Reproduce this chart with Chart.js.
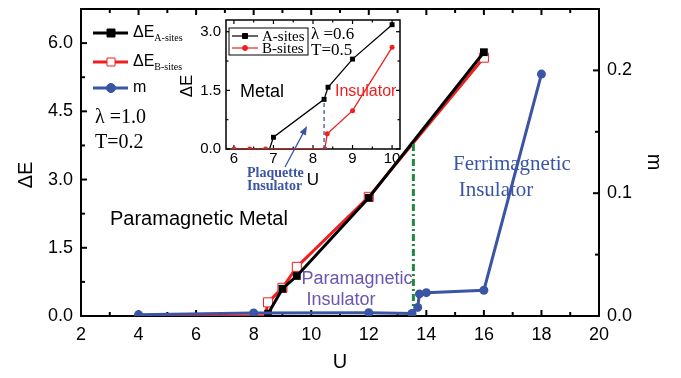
<!DOCTYPE html>
<html>
<head>
<meta charset="utf-8">
<script src="https://cdn.jsdelivr.net/npm/chart.js@4.4.0/dist/chart.umd.min.js"></script>
<style>
  body { margin: 0; background: #fff; }
  #wrap { position: relative; width: 681px; height: 378px; }
  #main { position: absolute; left: 0; top: 0; }
  #inset { position: absolute; left: 180px; top: 14px; }
</style>
</head>
<body>
<div id="wrap">
  <canvas id="main" width="681" height="378" style="width:681px;height:378px"></canvas>
  <canvas id="inset" width="230" height="185" style="width:230px;height:185px"></canvas>
</div>
<script>
const SANS = "'Liberation Sans', Arial, sans-serif";
const SERIF = "'Liberation Serif', 'Times New Roman', serif";
const BLACK = "#000000";
const RED = "#f01e1e";
const BLUE = "#3b55a5";
const GREEN = "#1e8a3e";
const PURPLE = "#6c55ad";

// main panel (lambda = 1.0, T = 0.2)
const uA = [8.5, 9, 9.5, 12, 16];
const dEA = [0.05, 0.6, 0.88, 2.6, 5.8];
const uB = [4, 8, 8.4, 8.5, 9, 9.5, 12, 16];
const dEB = [0, 0, 0, 0.3, 0.62, 1.08, 2.62, 5.68];
const uM = [4, 8, 12, 13.5, 13.7, 13.76, 14, 16, 18];
const mVals = [0.001, 0.0025, 0.0027, 0.002, 0.007, 0.018, 0.019, 0.021, 0.197];
const uTransition = [13.55, 13.55];
const dETransition = [0, 3.8];
const xTicksMain = [2, 4, 6, 8, 10, 12, 14, 16, 18, 20];
const yTicksMain = [0, 1.5, 3, 4.5, 6];
const mTicks = [0, 0.1, 0.2];

// inset (lambda = 0.6, T = 0.5)
const uInsetA = [6, 6.9, 7, 8.28, 8.38, 9, 10];
const dEInsetA = [0, 0, 0.3, 1.27, 1.58, 2.3, 3.18];
const uInsetB = [6, 6.4, 6.8, 8.3, 8.36, 9, 10];
const dEInsetB = [0, 0, 0, 0, 0.39, 0.98, 2.6];
const uPlaquette = [8.28, 8.28];
const dEPlaquette = [0, 1.27];
const xTicksInset = [6, 7, 8, 9, 10];
const yTicksInset = [0, 1.5, 3];

const pts = (xs, ys) => xs.map((x, i) => ({ x, y: ys[i] }));
const fixedTicks = (vals) => (scale) => { scale.ticks = vals.map((v) => ({ value: v })); };

// fixed box size for a scale, and no extra label padding pushed into the layout
const fitTo = (prop, size) => (s) => {
  s[prop] = size;
  s.paddingTop = 0;
  s.paddingBottom = 0;
  s.paddingLeft = 0;
  s.paddingRight = 0;
};

function drawTicks(ctx, scale, values, len, side, area) {
  values.forEach((v) => {
    const p = scale.getPixelForValue(v);
    ctx.beginPath();
    if (side === "bottom") { ctx.moveTo(p, area.bottom); ctx.lineTo(p, area.bottom - len); }
    if (side === "top") { ctx.moveTo(p, area.top); ctx.lineTo(p, area.top + len); }
    if (side === "left") { ctx.moveTo(area.left, p); ctx.lineTo(area.left + len, p); }
    if (side === "right") { ctx.moveTo(area.right, p); ctx.lineTo(area.right - len, p); }
    ctx.stroke();
  });
}

function marker(ctx, style, x, y, size, stroke, fill) {
  ctx.save();
  ctx.fillStyle = fill;
  ctx.strokeStyle = stroke;
  ctx.lineWidth = 1;
  ctx.beginPath();
  if (style === "rect") ctx.rect(x - size / 2, y - size / 2, size, size);
  else ctx.arc(x, y, size / 2, 0, Math.PI * 2);
  ctx.fill();
  ctx.stroke();
  ctx.restore();
}

function text(ctx, str, x, y, font, color, align) {
  ctx.font = font;
  ctx.fillStyle = color;
  ctx.textAlign = align || "left";
  ctx.textBaseline = "middle";
  ctx.fillText(str, x, y);
}

const mainDecor = {
  id: "mainDecor",
  beforeDraw(chart) {
    const { ctx, width, height } = chart;
    ctx.save();
    ctx.fillStyle = "#fff";
    ctx.fillRect(0, 0, width, height);
    ctx.restore();
  },
  beforeDatasetsDraw(chart) {
    const { ctx, chartArea: a, scales } = chart;
    ctx.save();
    ctx.strokeStyle = BLACK;
    ctx.lineWidth = 2;
    ctx.strokeRect(a.left, a.top, a.right - a.left, a.bottom - a.top);
    const xs = [];
    for (let u = 3; u < 20; u += 2) xs.push(u);
    drawTicks(ctx, scales.x, xTicksMain, 6, "bottom", a);
    drawTicks(ctx, scales.x, xs, 4, "bottom", a);
    drawTicks(ctx, scales.x, xTicksMain, 6, "top", a);
    drawTicks(ctx, scales.x, xs, 4, "top", a);
    drawTicks(ctx, scales.y, yTicksMain, 6, "left", a);
    drawTicks(ctx, scales.y, [0.75, 2.25, 3.75, 5.25], 4, "left", a);
    drawTicks(ctx, scales.y1, mTicks, 6, "right", a);
    drawTicks(ctx, scales.y1, [0.05, 0.15], 4, "right", a);
    ctx.restore();
  },
  afterDraw(chart) {
    const { ctx } = chart;
    ctx.save();

    // legend
    const rows = [
      { y: 33, color: BLACK, style: "rect", fill: BLACK, main: "\u0394E", sub: "A-sites" },
      { y: 62, color: RED, style: "rect", fill: "#fff", main: "\u0394E", sub: "B-sites" },
      { y: 88, color: BLUE, style: "circle", fill: BLUE, main: "m", sub: "" },
    ];
    rows.forEach((r) => {
      ctx.strokeStyle = r.color;
      ctx.lineWidth = 3;
      ctx.beginPath();
      ctx.moveTo(93, r.y);
      ctx.lineTo(128, r.y);
      ctx.stroke();
      marker(ctx, r.style, 111, r.y, r.style === "rect" ? 8 : 9, r.color, r.fill);
      text(ctx, r.main, 133, r.y, "16px " + SANS, BLACK);
      if (r.sub) {
        ctx.font = "16px " + SANS;
        const w = ctx.measureText(r.main).width;
        text(ctx, r.sub, 133 + w, r.y + 5, "10px " + SERIF, BLACK);
      }
    });

    text(ctx, "\u03bb =1.0", 95, 118, "20px " + SERIF, BLACK);
    text(ctx, "T=0.2", 95, 143, "20px " + SERIF, BLACK);
    text(ctx, "Paramagnetic Metal", 110, 219, "20px " + SANS, BLACK);
    text(ctx, "Paramagnetic", 357, 279, "18px " + SANS, PURPLE, "center");
    text(ctx, "Insulator", 341, 300, "18px " + SANS, PURPLE, "center");
    text(ctx, "Ferrimagnetic", 512, 164, "21px " + SERIF, BLUE, "center");
    text(ctx, "Insulator", 496, 190, "21px " + SERIF, BLUE, "center");

    // axis titles
    text(ctx, "U", 340, 362, "20px " + SANS, BLACK, "center");
    ctx.save();
    ctx.translate(26, 175);
    ctx.rotate(-Math.PI / 2);
    text(ctx, "\u0394E", 0, 0, "20px " + SANS, BLACK, "center");
    ctx.restore();
    ctx.save();
    ctx.translate(654, 162);
    ctx.rotate(Math.PI / 2);
    text(ctx, "m", 0, 0, "20px " + SANS, BLACK, "center");
    ctx.restore();

    ctx.restore();
  },
};

new Chart(document.getElementById("main"), {
  type: "line",
  data: {
    datasets: [
      {
        label: "m",
        data: pts(uM, mVals),
        yAxisID: "y1",
        borderColor: BLUE,
        backgroundColor: BLUE,
        borderWidth: 3,
        pointRadius: 4.5,
        pointBorderWidth: 0,
        pointBackgroundColor: BLUE,
      },
      {
        label: "transition",
        data: pts(uTransition, dETransition),
        yAxisID: "y",
        borderColor: GREEN,
        borderWidth: 3,
        borderDash: [7, 3, 2, 3],
        pointRadius: 0,
      },
      {
        label: "A-sites",
        data: pts(uA, dEA),
        yAxisID: "y",
        borderColor: BLACK,
        backgroundColor: BLACK,
        borderWidth: 3,
        pointStyle: "rect",
        pointRadius: 5.5,
        pointBorderWidth: 0,
        pointBackgroundColor: BLACK,
      },
      {
        label: "B-sites",
        data: pts(uB, dEB),
        yAxisID: "y",
        borderColor: RED,
        borderWidth: 3,
        pointStyle: "rect",
        pointRadius: uB.map((u, i) => (dEB[i] === 0 ? 0 : 6.4)),
        pointBorderWidth: 1,
        pointBorderColor: RED,
        pointBackgroundColor: "#fff",
      },
    ],
  },
  options: {
    responsive: false,
    animation: false,
    layout: { padding: { top: 9, left: 0, right: 0, bottom: 0 } },
    elements: { line: { tension: 0 } },
    plugins: { legend: { display: false }, tooltip: { enabled: false } },
    scales: {
      x: {
        type: "linear",
        min: 2,
        max: 20,
        afterBuildTicks: fixedTicks(xTicksMain),
        afterFit: fitTo("height", 62),
        grid: { display: false, drawTicks: false },
        border: { display: false },
        ticks: { color: BLACK, padding: 8, font: { family: SANS, size: 18 } },
      },
      y: {
        position: "left",
        min: 0,
        max: 6.75,
        afterBuildTicks: fixedTicks(yTicksMain),
        afterFit: fitTo("width", 81),
        grid: { display: false, drawTicks: false },
        border: { display: false },
        ticks: { color: BLACK, padding: 8, font: { family: SANS, size: 18 }, callback: (v) => v.toFixed(1) },
      },
      y1: {
        position: "right",
        min: 0,
        max: 0.25,
        afterBuildTicks: fixedTicks(mTicks),
        afterFit: fitTo("width", 82),
        grid: { display: false, drawTicks: false },
        border: { display: false },
        ticks: { color: BLACK, padding: 8, font: { family: SANS, size: 18 }, callback: (v) => v.toFixed(1) },
      },
    },
  },
  plugins: [mainDecor],
});

// -------- inset --------
const insetDecor = {
  id: "insetDecor",
  beforeDraw(chart) {
    const { ctx, chartArea: a } = chart;
    ctx.save();
    ctx.fillStyle = "#fff";
    ctx.fillRect(a.left, a.top, a.right - a.left, a.bottom - a.top);
    ctx.restore();
  },
  beforeDatasetsDraw(chart) {
    const { ctx, chartArea: a, scales } = chart;
    ctx.save();
    ctx.strokeStyle = BLACK;
    ctx.lineWidth = 1.5;
    ctx.strokeRect(a.left, a.top, a.right - a.left, a.bottom - a.top);
    ctx.lineWidth = 1.2;
    drawTicks(ctx, scales.x, xTicksInset, 4, "bottom", a);
    drawTicks(ctx, scales.x, [6.5, 7.5, 8.5, 9.5], 2.5, "bottom", a);
    drawTicks(ctx, scales.x, xTicksInset, 4, "top", a);
    drawTicks(ctx, scales.x, [6.5, 7.5, 8.5, 9.5], 2.5, "top", a);
    drawTicks(ctx, scales.y, yTicksInset, 4, "left", a);
    drawTicks(ctx, scales.y, [0.75, 2.25], 2.5, "left", a);
    drawTicks(ctx, scales.y, yTicksInset, 4, "right", a);
    drawTicks(ctx, scales.y, [0.75, 2.25], 2.5, "right", a);
    ctx.restore();
  },
  afterDraw(chart) {
    const { ctx } = chart;
    ctx.save();

    // legend box
    ctx.fillStyle = "#fff";
    ctx.fillRect(49, 14, 79, 27);
    ctx.strokeStyle = BLACK;
    ctx.lineWidth = 1;
    ctx.strokeRect(49, 14, 79, 27);
    [
      { y: 22, color: BLACK, style: "rect", label: "A-sites" },
      { y: 34, color: RED, style: "circle", label: "B-sites" },
    ].forEach((r) => {
      ctx.strokeStyle = r.color;
      ctx.lineWidth = 1.2;
      ctx.beginPath();
      ctx.moveTo(52, r.y);
      ctx.lineTo(78, r.y);
      ctx.stroke();
      marker(ctx, r.style, 65, r.y, 5, r.color, r.color);
      text(ctx, r.label, 82, r.y + 1, "15px " + SERIF, BLACK);
    });

    text(ctx, "\u03bb =0.6", 131, 21, "17px " + SERIF, BLACK);
    text(ctx, "T=0.5", 131, 37, "17px " + SERIF, BLACK);
    text(ctx, "Metal", 60, 78, "18px " + SANS, BLACK);
    text(ctx, "Insulator", 155, 78, "16px " + SANS, RED);

    // arrow pointing at the plaquette region
    ctx.strokeStyle = BLUE;
    ctx.fillStyle = BLUE;
    ctx.lineWidth = 1.3;
    const x0 = 105, y0 = 153, x1 = 127, y1 = 112;
    const ang = Math.atan2(y1 - y0, x1 - x0);
    ctx.beginPath();
    ctx.moveTo(x0, y0);
    ctx.lineTo(x1 - 7 * Math.cos(ang), y1 - 7 * Math.sin(ang));
    ctx.stroke();
    ctx.beginPath();
    ctx.moveTo(x1, y1);
    ctx.lineTo(x1 - 9 * Math.cos(ang) + 3.5 * Math.sin(ang), y1 - 9 * Math.sin(ang) - 3.5 * Math.cos(ang));
    ctx.lineTo(x1 - 9 * Math.cos(ang) - 3.5 * Math.sin(ang), y1 - 9 * Math.sin(ang) + 3.5 * Math.cos(ang));
    ctx.closePath();
    ctx.fill();

    text(ctx, "Plaquette", 67, 159, "bold 14px " + SERIF, BLUE);
    text(ctx, "Insulator", 67, 172, "bold 14px " + SERIF, BLUE);

    text(ctx, "U", 133, 166, "17px " + SANS, BLACK, "center");
    ctx.save();
    ctx.translate(7, 72);
    ctx.rotate(-Math.PI / 2);
    text(ctx, "\u0394E", 0, 0, "17px " + SANS, BLACK, "center");
    ctx.restore();

    ctx.restore();
  },
};

new Chart(document.getElementById("inset"), {
  type: "line",
  data: {
    datasets: [
      {
        label: "plaquette",
        data: pts(uPlaquette, dEPlaquette),
        borderColor: BLUE,
        borderWidth: 1.3,
        borderDash: [4, 3],
        pointRadius: 0,
      },
      {
        label: "B-sites",
        data: pts(uInsetB, dEInsetB),
        borderColor: RED,
        backgroundColor: RED,
        borderWidth: 1.3,
        pointRadius: 2.5,
        pointBorderWidth: 0,
        pointBackgroundColor: RED,
      },
      {
        label: "A-sites",
        data: pts(uInsetA, dEInsetA),
        borderColor: BLACK,
        backgroundColor: BLACK,
        borderWidth: 1.3,
        pointStyle: "rect",
        pointRadius: uInsetA.map((u, i) => (dEInsetA[i] === 0 ? 0 : 3.5)),
        pointBorderWidth: 0,
        pointBackgroundColor: BLACK,
      },
    ],
  },
  options: {
    responsive: false,
    animation: false,
    layout: { padding: { top: 6, left: 0, right: 10, bottom: 0 } },
    elements: { line: { tension: 0 } },
    plugins: { legend: { display: false }, tooltip: { enabled: false } },
    scales: {
      x: {
        type: "linear",
        min: 5.8,
        max: 10.2,
        afterBuildTicks: fixedTicks(xTicksInset),
        afterFit: fitTo("height", 50),
        grid: { display: false, drawTicks: false },
        border: { display: false },
        ticks: { color: BLACK, padding: 1, font: { family: SANS, size: 15 } },
      },
      y: {
        min: 0,
        max: 3.3,
        afterBuildTicks: fixedTicks(yTicksInset),
        afterFit: fitTo("width", 46),
        grid: { display: false, drawTicks: false },
        border: { display: false },
        ticks: { color: BLACK, padding: 5, font: { family: SANS, size: 15 }, callback: (v) => v.toFixed(1) },
      },
    },
  },
  plugins: [insetDecor],
});
</script>
</body>
</html>
